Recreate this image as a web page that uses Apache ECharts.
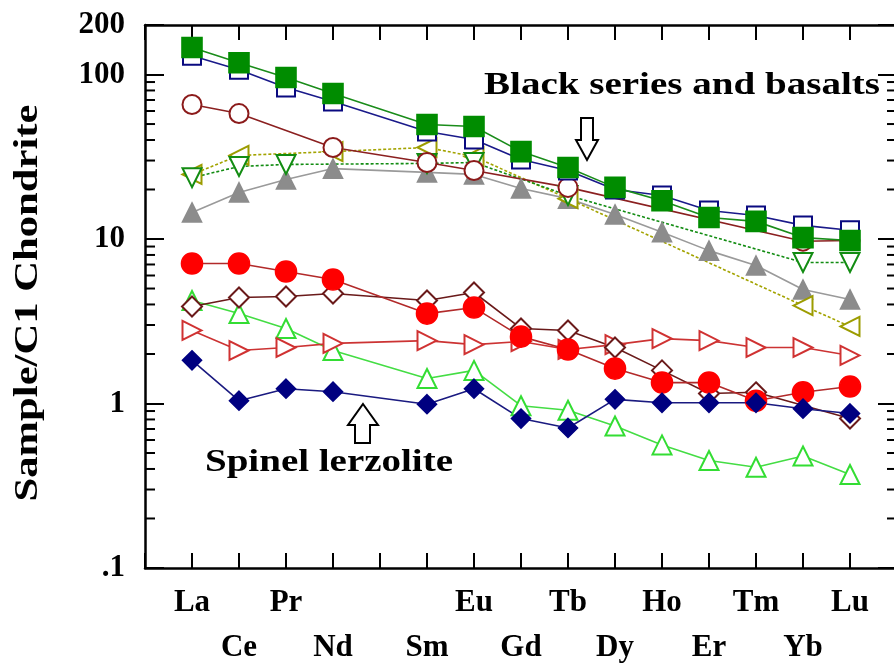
<!DOCTYPE html>
<html>
<head>
<meta charset="utf-8">
<script src="https://cdn.jsdelivr.net/npm/echarts@6/dist/echarts.min.js"></script>
<style>html,body{margin:0;padding:0;background:#fff;}#c{width:894px;height:664px;}</style>
</head>
<body>
<div id="c"></div>
<script>
// ---- data ----
const elements   = ['La','Ce','Pr','Nd','Pm','Sm','Eu','Gd','Tb','Dy','Ho','Er','Tm','Yb','Lu'];
const tickLabels = ['La','Ce','Pr','Nd','','Sm','Eu','Gd','Tb','Dy','Ho','Er','Tm','Yb','Lu'];
const yTickValues = [0.1, 1, 10, 100, 200];
const yTickLabels = ['.1', '1', '10', '100', '200'];
const minorTickValues = [0.2,0.3,0.4,0.5,0.6,0.7,0.8,0.9, 2,3,4,5,6,7,8,9, 20,30,40,50,60,70,80,90];

const navySquares   = [130,107,83.4,68.5,null,45,40.3,30.4,26.1,20,18.4,14.9,13.9,12.1,11.3];
const greenSquares  = [146,118,95.9,76.6,null,49.7,48.3,34.0,27.2,20.6,17.1,13.5,12.8,10.2,9.8];
const brownCircles  = [65.7,57.9,null,36,null,29.2,26.1,null,20.6,null,null,null,null,9.7,9.8];
const grayTriangles = [14.5,19.2,23,26.8,null,25.4,24.7,20.3,17.6,14.1,11.0,8.5,6.9,4.93,4.29];
const greenDown     = [23.6,27.6,28.4,null,null,28.8,29.2,null,18.4,null,null,null,null,7.2,7.2];
const oliveLeft     = [24.7,32.2,null,34,null,36,31.7,null,17.6,null,null,null,null,3.94,2.94];
const lightGreenUp  = [4.23,3.52,2.86,2.1,null,1.42,1.59,0.97,0.91,0.73,0.56,0.45,0.41,0.48,0.37];
const redRight      = [2.78,2.1,2.19,2.32,null,2.41,2.28,2.38,2.13,2.28,2.48,2.41,2.19,2.19,1.96];
const brownDiamonds = [3.89,4.41,4.47,4.66,null,4.23,4.73,2.86,2.78,2.19,1.59,1.15,1.17,null,0.81];
const redCircles    = [7.1,7.1,6.35,5.67,null,3.52,3.83,2.55,2.13,1.63,1.34,1.34,1.04,1.17,1.27];
const navyDiamonds  = [1.83,1.04,1.23,1.18,null,0.99,1.23,0.81,0.71,1.06,1.01,1.01,1.01,0.93,0.87];

// ---- helpers ----
const FONT = '"Liberation Serif","Times New Roman",serif';
function pairs(arr){ const out=[]; arr.forEach((v,i)=>{ if(v!=null) out.push([i,v]); }); return out; }
const measureCtx = document.createElement('canvas').getContext('2d');
function fitScale(text, size, target){
  measureCtx.font = 'bold ' + size + 'px ' + FONT;
  return target / measureCtx.measureText(text).width;
}
function mk(name, data, symbol, color, lineColor, opts){
  return Object.assign({
    name, type:'line', data: pairs(data), symbol, symbolSize: 19,
    itemStyle:{ color: color, borderColor: color, borderWidth: 1.6 },
    lineStyle:{ color: lineColor, width: 1.6 },
    emphasis:{disabled:true}, animation:false
  }, opts||{});
}

const chart = echarts.init(document.getElementById('c'), null, {renderer:'canvas'});

const labelStyle = { fontFamily: FONT, fontWeight:'bold', fontSize: 31, color:'#000' };
const axLine = { show:true, onZero:false, lineStyle:{ color:'#000', width:2.5 } };

const option = {
  backgroundColor:'#fff',
  animation:false,
  grid:{ left:145, top:25, width:752, height:543, containLabel:false, outerBoundsMode:'none' },
  xAxis:[
    { type:'value', min:-1, max:15, interval:1, position:'bottom',
      axisLine: axLine,
      axisTick:{ show:true, inside:true, length:15, lineStyle:{ color:'#000', width:2 } },
      splitLine:{ show:false },
      axisLabel:{ ...labelStyle, margin:12, lineHeight:45, verticalAlign:'top',
        showMinLabel:true, showMaxLabel:true, hideOverlap:false,
        formatter:(v)=>{ const i=Math.round(v); if(i<0||i>=tickLabels.length) return ''; const t=tickLabels[i]; return (i%2===1)? '\n'+t : t; } } },
    { type:'value', min:-1, max:15, interval:1, position:'top',
      axisLine: axLine,
      axisTick:{ show:true, inside:true, length:15, lineStyle:{ color:'#000', width:2 } },
      splitLine:{ show:false }, axisLabel:{ show:false } }
  ],
  yAxis:[
    { type:'log', logBase:10, min:0.1, max:200, position:'left',
      axisLine: axLine,
      axisTick:{ show:true, inside:true, length:19, lineStyle:{ color:'#000', width:2 } },
      splitLine:{ show:false },
      axisLabel:{ ...labelStyle, margin:20,
        formatter:(v)=>{ for(let k=0;k<yTickValues.length;k++){ if(Math.abs(v-yTickValues[k])/yTickValues[k]<1e-3) return yTickLabels[k]; } return ''; } } },
    { type:'log', logBase:10, min:0.1, max:200, position:'right',
      axisLine: axLine,
      axisTick:{ show:true, inside:true, length:19, lineStyle:{ color:'#000', width:2 } },
      splitLine:{ show:false }, axisLabel:{ show:false } }
  ],
  series:[
    { type:'custom', name:'minorTicks', xAxisIndex:0, yAxisIndex:0, silent:true, clip:false,
      data: minorTickValues.map(v=>[-1, v]),
      renderItem:(params, api)=>{
        const v = api.value(1);
        const pl = api.coord([-1, v]);
        const pr = api.coord([15, v]);
        return { type:'group', children:[
          { type:'line', shape:{ x1:pl[0], y1:pl[1], x2:pl[0]+10, y2:pl[1] }, style:{ stroke:'#000', lineWidth:2 } },
          { type:'line', shape:{ x1:pr[0]-10, y1:pr[1], x2:pr[0], y2:pr[1] }, style:{ stroke:'#000', lineWidth:2 } }
        ]};
      } },
    mk('gray', grayTriangles, 'triangle', '#8c8c8c', '#9a9a9a'),
    mk('olive', oliveLeft, 'emptyTriangle', '#9c9c00', '#a3a300', { symbolRotate:90, lineStyle:{ color:'#a3a300', width:1.6, type:[3,2] } }),
    mk('greenDown', greenDown, 'emptyTriangle', '#128c12', '#128c12', { symbolRotate:180, lineStyle:{ color:'#128c12', width:1.6, type:[3,2] } }),
    mk('brownCircle', brownCircles, 'emptyCircle', '#8b1a1a', '#8b2020', { connectNulls:true }),
    mk('navySq', navySquares, 'emptyRect', '#0a0a80', '#1a1a8a', { symbolSize:18 }),
    mk('greenSq', greenSquares, 'rect', '#008c00', '#1a8c1a', { symbolSize:20 }),
    mk('lightGreen', lightGreenUp, 'emptyTriangle', '#33dd33', '#44dd44'),
    mk('redRight', redRight, 'emptyTriangle', '#d03232', '#cc3333', { symbolRotate:-90 }),
    mk('brownDiamond', brownDiamonds, 'emptyDiamond', '#6a1a1a', '#6a1a1a', { symbolSize:20 }),
    mk('redCircle', redCircles, 'circle', '#ff0000', '#b22a2a', { symbolSize:21 }),
    mk('navyDiamond', navyDiamonds, 'diamond', '#000080', '#1a1a80', { symbolSize:19 })
  ],
  graphic:[
    { type:'text', x:484, y:86, z:100,
      scaleX: fitScale('Black series and basalts', 32, 396),
      style:{ text:'Black series and basalts', font:'bold 32px ' + FONT, fill:'#000', verticalAlign:'middle', align:'left' } },
    { type:'text', x:205, y:463, z:100,
      scaleX: fitScale('Spinel lerzolite', 32, 248),
      style:{ text:'Spinel lerzolite', font:'bold 32px ' + FONT, fill:'#000', verticalAlign:'middle', align:'left' } },
    { type:'text', x:28, y:303, z:100, rotation: Math.PI/2,
      scaleX: fitScale('Sample/C1 Chondrite', 33, 397),
      style:{ text:'Sample/C1 Chondrite', font:'bold 33px ' + FONT, fill:'#000', verticalAlign:'middle', align:'center' } },
    { type:'polygon', z:100,
      shape:{ points:[[581,118],[593,118],[593,140],[598,140],[587,160],[576,140],[581,140]] },
      style:{ fill:'#fff', stroke:'#000', lineWidth:2 } },
    { type:'polygon', z:100,
      shape:{ points:[[363,404],[378,425],[370,425],[370,443],[355,443],[355,425],[348,425]] },
      style:{ fill:'#fff', stroke:'#000', lineWidth:2 } }
  ]
};
chart.setOption(option);
</script>
</body>
</html>
